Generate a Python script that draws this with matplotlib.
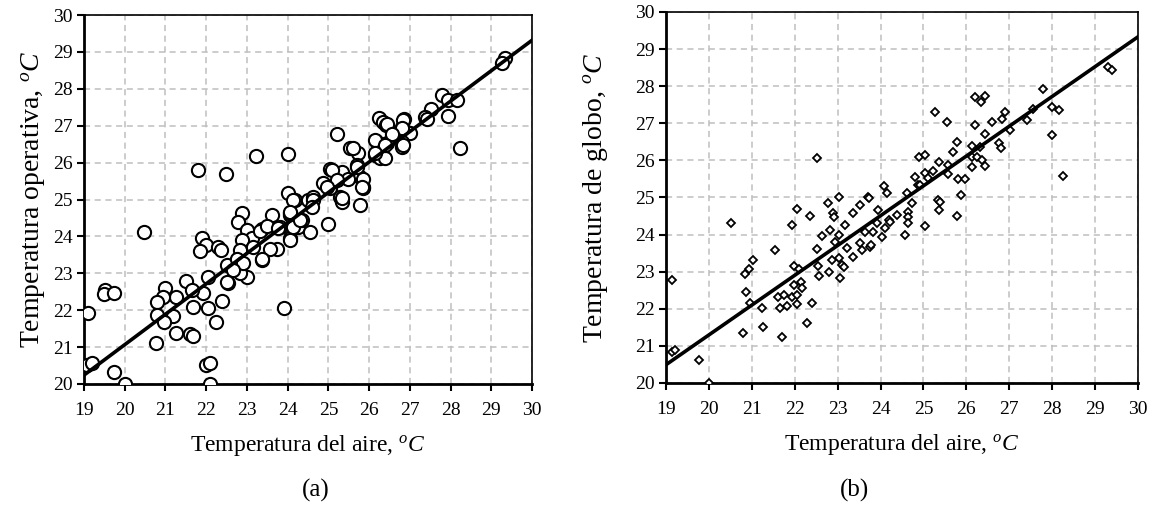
"""Operative and globe temperature vs air temperature, two scatter panels."""
import matplotlib
matplotlib.use("Agg")
import matplotlib.pyplot as plt

plt.rcParams["font.family"] = "Liberation Serif"
plt.rcParams["mathtext.fontset"] = "custom"
plt.rcParams["mathtext.rm"] = "Liberation Serif"
plt.rcParams["mathtext.it"] = "Liberation Serif:italic"

# (a) operative temperature vs air temperature
op_air = [21.81, 22.48, 23.22, 24.01, 24.00, 24.18, 24.50, 22.87, 22.77, 20.48,
          21.89, 21.99, 21.85, 22.30, 22.36, 22.99, 23.12, 23.36, 23.61, 23.81,
          23.73, 23.36, 24.06, 24.06, 24.26, 22.75, 22.50, 22.54, 22.99, 22.83,
          22.05, 21.93, 22.38, 22.05, 22.24, 21.50, 21.64, 21.68, 21.26, 20.99,
          20.93, 20.78, 20.80, 21.18, 20.96, 21.26, 21.60, 21.67, 20.77, 19.52,
          19.50, 19.74, 19.11, 19.08, 19.20, 19.74, 20.00, 21.99, 22.09, 22.09,
          23.91, 29.34, 29.26, 27.78, 27.94, 28.15, 27.94, 28.23, 27.53, 27.37,
          26.23, 26.35, 26.41, 26.86, 26.80, 27.00, 26.59, 25.22, 26.17, 25.53,
          25.73, 26.80, 26.80, 26.43, 26.14, 26.27, 26.39, 25.69, 25.04, 25.33,
          25.78, 25.86, 25.49, 24.86, 25.04, 24.63, 25.28, 24.14, 25.04, 25.33,
          25.78, 25.86, 24.63, 24.59, 25.00, 24.55, 24.06, 24.14, 24.34,
          24.06, 23.33, 23.49, 23.77, 24.30, 22.87, 22.83, 23.16, 23.57, 24.06,
          23.36, 22.75, 22.91, 22.67, 22.50, 26.43, 26.84, 26.80, 26.55, 26.14,
          26.39, 25.61, 26.14, 26.84, 25.08, 25.69, 25.86, 25.82, 25.20, 24.96,
          25.33, 27.41]
op_temp = [25.80, 25.69, 26.19, 26.24, 25.17, 25.00, 24.99, 24.63, 24.40, 24.13,
           23.97, 23.77, 23.60, 23.72, 23.63, 24.17, 23.97, 24.19, 24.58, 24.26,
           23.67, 23.36, 24.58, 23.95, 24.26, 23.36, 23.22, 22.73, 22.89, 23.00,
           22.91, 22.46, 22.24, 22.07, 21.69, 22.78, 22.55, 22.10, 22.35, 22.59,
           22.37, 22.23, 21.87, 21.84, 21.69, 21.37, 21.36, 21.31, 21.10, 22.55,
           22.43, 22.46, 21.92, 20.51, 20.58, 20.33, 20.00, 20.51, 20.56, 20.00,
           22.07, 28.83, 28.69, 27.83, 27.70, 27.70, 27.26, 26.41, 27.45, 27.23,
           27.20, 27.11, 27.02, 27.17, 26.97, 26.81, 26.81, 26.78, 26.59, 26.41,
           26.25, 26.57, 26.43, 26.52, 26.21, 26.12, 26.12, 25.93, 25.82, 25.75,
           25.62, 25.30, 25.57, 25.44, 25.35, 25.08, 25.08, 24.99, 25.30, 24.94,
           24.85, 25.35, 24.99, 24.80, 24.35, 24.13, 24.63, 24.26, 24.44,
           24.67, 24.15, 24.28, 24.24, 24.44, 23.90, 23.63, 23.72, 23.67, 23.90,
           23.40, 23.40, 23.27, 23.09, 22.77, 27.06, 27.15, 26.93, 26.79, 26.61,
           26.48, 26.39, 26.25, 26.48, 25.80, 25.87, 25.57, 25.35, 25.53, 25.35,
           25.03, 27.17]

# (b) globe temperature vs air temperature
gl_air = [22.53, 23.03, 23.72, 24.07, 24.16, 19.13, 19.14, 19.21, 19.78, 20.01,
          20.52, 20.84, 20.94, 21.04, 20.86, 20.96, 20.80, 21.23, 21.27, 21.54,
          21.62, 21.66, 21.75, 21.70, 21.81, 21.93, 21.93, 22.05, 21.98, 21.98,
          22.05, 22.06, 22.11, 22.14, 22.16, 22.28, 22.36, 22.40, 22.51, 22.55,
          22.57, 22.63, 22.78, 22.82, 22.81, 22.89, 22.92, 22.86, 22.94, 23.04,
          23.04, 23.06, 23.10, 23.15, 23.17, 23.21, 23.37, 23.37, 23.52, 23.52,
          23.56, 23.64, 23.74, 23.76, 23.83, 23.91, 23.95, 24.03, 24.10, 24.20,
          24.38, 29.31, 29.39, 27.78, 27.99, 28.17, 27.99, 28.26, 27.55, 27.42,
          26.20, 26.44, 26.34, 25.27, 25.56, 26.90, 26.83, 26.59, 27.02, 26.20,
          26.44, 26.75, 26.81, 25.78, 25.70, 26.13, 26.32, 26.13, 26.26, 26.36,
          26.44, 26.13, 25.58, 25.58, 25.37, 24.90, 25.04, 25.23, 25.04, 24.80,
          25.11, 25.81, 25.97, 24.61, 24.88, 25.87, 25.35, 25.39, 25.37, 25.79,
          25.04, 24.57, 24.73, 24.63, 24.63, 24.63, 24.22, 23.79, 24.92]
gl_temp = [26.07, 25.00, 25.00, 25.32, 25.11, 22.78, 20.84, 20.89, 20.62, 20.00,
           24.30, 22.93, 23.06, 23.32, 22.46, 22.15, 21.34, 22.01, 21.50, 23.58,
           22.31, 22.01, 22.37, 21.25, 22.08, 22.31, 24.26, 24.68, 23.15, 22.64,
           22.37, 22.13, 23.06, 22.73, 22.55, 21.61, 24.50, 22.15, 23.60, 23.15,
           22.88, 23.96, 24.84, 24.12, 23.00, 24.57, 24.48, 23.32, 23.81, 23.99,
           23.36, 22.82, 23.18, 23.12, 24.26, 23.63, 24.57, 23.39, 24.80, 23.77,
           23.58, 24.08, 24.98, 23.67, 24.08, 24.30, 24.66, 23.93, 24.17, 24.39,
           24.53, 28.53, 28.44, 27.92, 27.43, 27.36, 26.68, 25.59, 27.38, 27.09,
           27.72, 27.74, 27.58, 27.31, 27.04, 27.31, 27.11, 27.04, 26.82, 26.94,
           26.71, 26.46, 26.33, 26.50, 26.23, 26.39, 26.37, 26.10, 26.10, 26.01,
           25.86, 25.83, 25.88, 25.63, 25.96, 26.10, 26.15, 25.70, 25.65, 25.56,
           25.52, 25.49, 25.49, 25.13, 25.34, 25.07, 24.93, 24.89, 24.66, 24.51,
           24.23, 23.99, 24.84, 24.62, 24.47, 24.30, 24.35, 23.72, 25.34]

# trend lines, end points
fit_x = [19, 30]
fit_op = [20.24, 29.32]
fit_gl = [20.49, 29.33]

ticks_x = list(range(19, 31))
ticks_y = list(range(20, 31))

fig = plt.figure(figsize=(11.49, 5.21), dpi=100)
ax_a = fig.add_axes([0.0731, 0.263, 0.390, 0.708])
ax_b = fig.add_axes([0.5796, 0.265, 0.4108, 0.712])

panels = [
    (ax_a, op_air, op_temp, fit_op, "o", 9.5, 1.5,
     "Temperatura operativa, $^oC$", 4),
    (ax_b, gl_air, gl_temp, fit_gl, "D", 4.2, 1.3,
     "Temperatura de globo, $^oC$", 18),
]
for ax, xs, ys, fit, mk, ms, mew, ylab, ypad in panels:
    ax.plot(xs, ys, ls="none", marker=mk, ms=ms, mfc="white", mec="black",
            mew=mew, zorder=3)
    ax.plot(fit_x, fit, color="black", lw=2.6, zorder=4)
    ax.set_xlim(19, 30)
    ax.set_ylim(20, 30)
    ax.set_xticks(ticks_x)
    ax.set_yticks(ticks_y)
    ax.set_xticklabels([str(t) for t in ticks_x], fontsize=14)
    ax.set_yticklabels([str(t) for t in ticks_y], fontsize=14)
    ax.grid(True, color="#bfbfbf", ls=(0, (4, 3)), lw=1.1, zorder=0)
    ax.set_axisbelow(True)
    ax.tick_params(direction="out", length=5, width=1.5, color="black")
    ax.tick_params(axis="x", pad=8)
    ax.tick_params(axis="y", pad=3)
    for side in ["left", "bottom"]:
        ax.spines[side].set_linewidth(2.0)
    for side in ["top", "right"]:
        ax.spines[side].set_linewidth(1.2)
    ax.set_xlabel("Temperatura del aire, $^oC$", fontsize=17, labelpad=10)
    ax.set_ylabel(ylab, fontsize=20, labelpad=ypad)

fig.text(0.275, 0.058, "(a)", fontsize=18, ha="center", va="center")
fig.text(0.744, 0.058, "(b)", fontsize=18, ha="center", va="center")

fig.savefig("out.png", dpi=100)
